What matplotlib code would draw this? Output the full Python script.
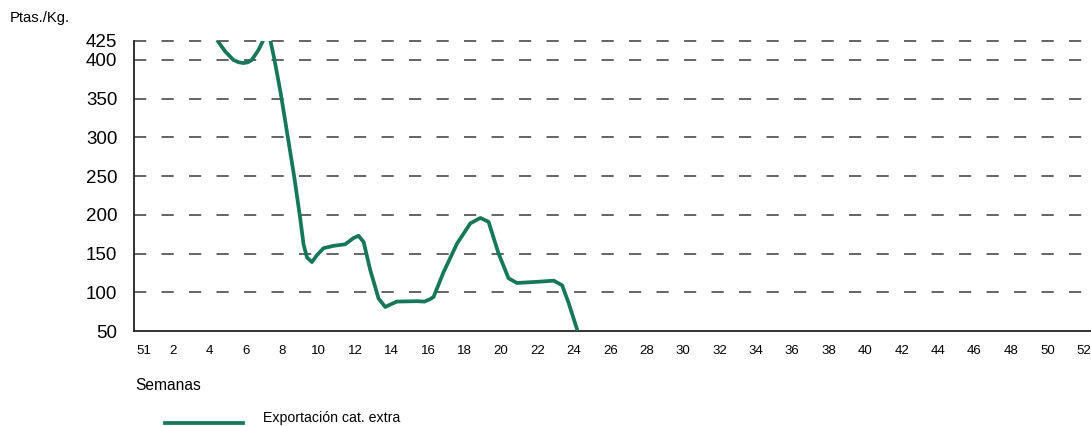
import matplotlib.pyplot as plt
import numpy as np

plt.rcParams['font.family'] = ['Liberation Sans', 'DejaVu Sans']

# weeks (x positions in week units, 51 sits just left of 1)
tick_pos = [0.4] + list(range(2, 54, 2))
tick_labels = ['51'] + [str(w) for w in range(2, 54, 2)]
y_ticks = [50, 100, 150, 200, 250, 300, 350, 400, 425]

# Exportacion cat. extra - two drawn pieces (line leaves the top around week 7)
weeks_a = [4.4, 4.86, 5.31, 5.6, 5.86, 6.1, 6.32, 6.69, 6.96]
price_a = [426, 411, 400, 397, 396, 397, 400, 413, 426]
weeks_b = [7.33, 7.55, 7.9, 8.3, 8.65, 8.98, 9.16, 9.35, 9.62, 9.9, 10.26,
           10.81, 11.45, 11.9, 12.18, 12.46, 12.82, 13.28, 13.65, 14.0, 14.29,
           15.39, 15.8, 16.1, 16.3, 16.85, 17.59, 18.32, 18.87, 19.32, 19.87,
           20.42, 20.88, 21.98, 22.9, 23.36, 23.72, 24.18]
price_b = [426, 402, 358, 300, 249, 195, 162, 145, 139, 148, 157,
           160, 162, 170, 173, 165, 129, 92, 81, 85, 88,
           88.5, 88, 91, 94, 126, 163, 189, 196, 191, 150,
           118, 112, 113.5, 115, 109, 86, 52]

green = '#16775a'

fig = plt.figure(figsize=(10.91, 4.26), dpi=100)
ax = fig.add_axes([0.1228, 0.223, 0.8772, 0.6817])

for v in y_ticks[1:]:
    ax.axhline(v, color='#3a3a3a', lw=1.1, linestyle=(0, (8, 10)), zorder=1, clip_on=False)

ax.plot(weeks_a, price_a, color=green, lw=2.7, solid_capstyle='round',
        solid_joinstyle='round', zorder=3)
ax.plot(weeks_b, price_b, color=green, lw=2.7, solid_capstyle='round',
        solid_joinstyle='round', zorder=3)

ax.set_xlim(-0.15, 52.4)
ax.set_ylim(50, 425)
ax.set_yticks(y_ticks)
ax.set_yticklabels([str(v) for v in y_ticks], fontsize=13.5)
ax.set_xticks(tick_pos)
ax.set_xticklabels(tick_labels, fontsize=9.5)
ax.tick_params(axis='y', length=0, pad=12)
ax.tick_params(axis='x', length=0, pad=10)

for s in ['top', 'right']:
    ax.spines[s].set_visible(False)
ax.spines['left'].set_linewidth(1.3)
ax.spines['bottom'].set_linewidth(1.3)
ax.spines['left'].set_color('#222222')
ax.spines['bottom'].set_color('#222222')

fig.text(10 / 1091, 1 - 18 / 426, 'Ptas./Kg.', fontsize=10.6, va='center', ha='left')
fig.text(135 / 1091, 1 - 386 / 426, 'Semanas', fontsize=11.2, va='center', ha='left')
fig.add_artist(plt.Line2D([165 / 1091, 243 / 1091], [1 - 423 / 426, 1 - 423 / 426],
                          color=green, lw=2.7))
fig.text(263 / 1091, 1 - 418 / 426, 'Exportación cat. extra', fontsize=10.2,
         va='center', ha='left')

fig.savefig('out.png', dpi=100)
